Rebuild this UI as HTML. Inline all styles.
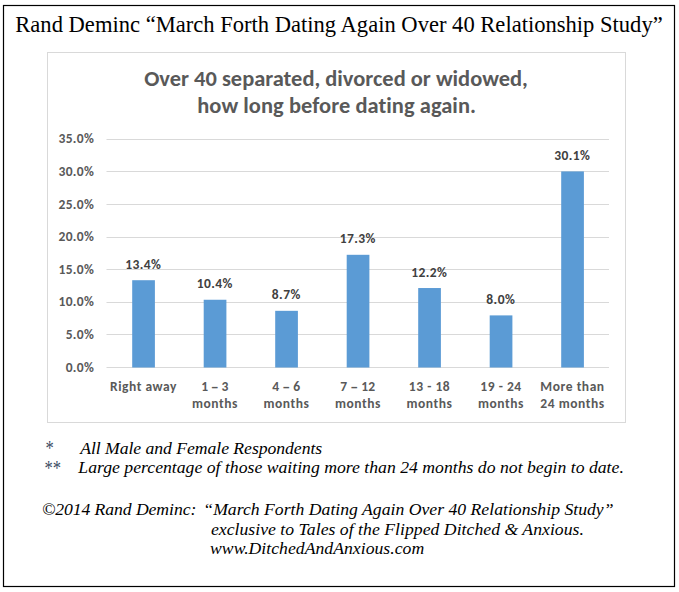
<!DOCTYPE html>
<html>
<head>
<meta charset="utf-8">
<style>
html,body{margin:0;padding:0;background:#fff;}
body{width:679px;height:592px;overflow:hidden;position:relative;}
svg{position:absolute;left:0;top:0;display:block;}
text{font-variant-ligatures:none;font-feature-settings:"liga" 0,"clig" 0;}
.hdr{font-family:"Liberation Serif","Times New Roman",serif;font-size:22.56px;fill:#000;}
.ttl{font-family:Carlito,Calibri,"Liberation Sans",sans-serif;font-weight:bold;font-size:22.45px;fill:#595959;}
.ax{font-family:Carlito,Calibri,"Liberation Sans",sans-serif;font-weight:bold;font-size:13.5px;letter-spacing:0.55px;fill:#595959;}
.yl{letter-spacing:0.38px;}
.dl{font-family:Carlito,Calibri,"Liberation Sans",sans-serif;font-weight:bold;font-size:13.5px;letter-spacing:0.45px;fill:#404040;}
.ft{font-family:"Liberation Serif","Times New Roman",serif;font-style:italic;font-size:17.7px;fill:#000;}
.ast{font-family:"Liberation Serif","Times New Roman",serif;font-size:16.6px;fill:#3a4a62;}
</style>
</head>
<body>
<svg width="679" height="592" viewBox="0 0 679 592">
  <!-- outer frame -->
  <rect x="3.5" y="5.5" width="671" height="581" fill="#fff" stroke="#000" stroke-width="1.2"/>
  <!-- header -->
  <text class="hdr" x="15.3" y="31.8" textLength="647.4" lengthAdjust="spacing">Rand Deminc “March Forth Dating Again Over 40 Relationship Study”</text>
  <!-- chart area -->
  <rect x="47.5" y="52.5" width="578" height="370" fill="#fff" stroke="#d9d9d9" stroke-width="1"/>
  <text class="ttl" x="336" y="85.8" text-anchor="middle">Over 40 separated, divorced or widowed,</text>
  <text class="ttl" x="336.6" y="113.1" text-anchor="middle" textLength="278.8" lengthAdjust="spacing">how long before dating again.</text>
  <!-- gridlines -->
  <g stroke="#d9d9d9" stroke-width="1">
    <line x1="106.5" y1="139.5" x2="609" y2="139.5"/>
    <line x1="106.5" y1="171.5" x2="609" y2="171.5"/>
    <line x1="106.5" y1="204.5" x2="609" y2="204.5"/>
    <line x1="106.5" y1="237.5" x2="609" y2="237.5"/>
    <line x1="106.5" y1="269.5" x2="609" y2="269.5"/>
    <line x1="106.5" y1="302.5" x2="609" y2="302.5"/>
    <line x1="106.5" y1="334.5" x2="609" y2="334.5"/>
    <line x1="106.5" y1="367.5" x2="609" y2="367.5"/>
  </g>
  <!-- y axis labels -->
  <g class="ax yl" text-anchor="end">
    <text x="94.3" y="143.2">35.0%</text>
    <text x="94.3" y="176.2">30.0%</text>
    <text x="94.3" y="209.1">25.0%</text>
    <text x="94.3" y="241.2">20.0%</text>
    <text x="94.3" y="274.2">15.0%</text>
    <text x="94.3" y="306.2">10.0%</text>
    <text x="94.3" y="339.1">5.0%</text>
    <text x="94.3" y="372.2">0.0%</text>
  </g>
  <!-- bars -->
  <g fill="#5b9bd5">
    <rect x="132.2" y="280.21" width="22.7" height="87.29"/>
    <rect x="203.7" y="299.75" width="22.7" height="67.75"/>
    <rect x="275.2" y="310.83" width="22.7" height="56.67"/>
    <rect x="346.7" y="254.80" width="22.7" height="112.70"/>
    <rect x="418.2" y="288.03" width="22.7" height="79.47"/>
    <rect x="489.7" y="315.39" width="22.7" height="52.11"/>
    <rect x="561.2" y="171.42" width="22.7" height="196.08"/>
  </g>
  <!-- data labels -->
  <g class="dl" text-anchor="middle" transform="translate(-0.2,0)">
    <text x="143.5" y="268.81">13.4%</text>
    <text x="215.0" y="288.35">10.4%</text>
    <text x="286.5" y="299.43">8.7%</text>
    <text x="358.0" y="243.40">17.3%</text>
    <text x="429.5" y="276.63">12.2%</text>
    <text x="501.0" y="303.99">8.0%</text>
    <text x="572.5" y="160.02">30.1%</text>
  </g>
  <!-- x axis labels -->
  <g class="ax" text-anchor="middle">
    <text x="143.5" y="390.8">Right away</text>
    <text x="215" y="390.8" textLength="27.6" lengthAdjust="spacing">1 <tspan font-size="16" dy="0.9">–</tspan><tspan dy="-0.9"> 3</tspan></text>
    <text x="215" y="407.7">months</text>
    <text x="286.5" y="390.8" textLength="28.4" lengthAdjust="spacing">4 <tspan font-size="16" dy="0.9">–</tspan><tspan dy="-0.9"> 6</tspan></text>
    <text x="286.5" y="407.7">months</text>
    <text x="358" y="390.8" textLength="35.3" lengthAdjust="spacing">7 <tspan font-size="16" dy="0.9">–</tspan><tspan dy="-0.9"> 12</tspan></text>
    <text x="358" y="407.7">months</text>
    <text x="429.5" y="390.8">13 - 18</text>
    <text x="429.5" y="407.7">months</text>
    <text x="501" y="390.8">19 - 24</text>
    <text x="501" y="407.7">months</text>
    <text x="572.5" y="390.8">More than</text>
    <text x="572.5" y="407.7">24 months</text>
  </g>
  <!-- footnotes -->
  <text class="ast" x="45.6" y="455" transform="translate(0,-2.1) translate(0,447) scale(1,1.3) translate(0,-447)">*</text>
  <text class="ast" x="44.5" y="474.5" transform="translate(0,-1.7) translate(0,466.5) scale(1,1.3) translate(0,-466.5)">**</text>
  <text class="ft" x="80.2" y="453.8" textLength="242" lengthAdjust="spacing">All Male and Female Respondents</text>
  <text class="ft" x="78.3" y="473.2" textLength="545.5" lengthAdjust="spacing">Large percentage of those waiting more than 24 months do not begin to date.</text>
  <text class="ft" x="41.9" y="514.6" textLength="154.4" lengthAdjust="spacing">©2014 Rand Deminc:</text>
  <text class="ft" x="203.3" y="514.6">“March Forth Dating Again Over 40 Relationship Study”</text>
  <text class="ft" x="210.9" y="534.5" textLength="373" lengthAdjust="spacing">exclusive to Tales of the Flipped Ditched &amp; Anxious.</text>
  <text class="ft" x="210" y="553.9" textLength="214.2" lengthAdjust="spacing">www.DitchedAndAnxious.com</text>
</svg>
</body>
</html>
